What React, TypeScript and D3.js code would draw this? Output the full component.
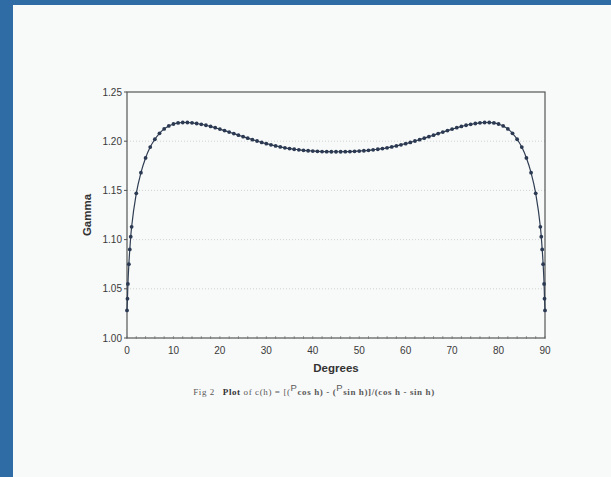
import React, { useEffect, useRef } from 'react'
import * as d3 from 'd3'

// degrees sampled along the curve (denser near the two ends)
const degrees = [
  0, 0.1, 0.2, 0.4, 0.6, 0.8, 1, 2, 3, 4, 5, 6, 7, 8, 9, 10,
  11, 12, 13, 14, 15, 16, 17, 18, 19, 20, 21, 22, 23, 24, 25, 26, 27, 28, 29, 30,
  31, 32, 33, 34, 35, 36, 37, 38, 39, 40, 41, 42, 43, 44, 45, 46, 47, 48, 49, 50,
  51, 52, 53, 54, 55, 56, 57, 58, 59, 60, 61, 62, 63, 64, 65, 66, 67, 68, 69, 70,
  71, 72, 73, 74, 75, 76, 77, 78, 79, 80, 81, 82, 83, 84, 85, 86, 87, 88, 89,
  89.2, 89.4, 89.6, 89.8, 89.9, 90
]

const gamma = [
  1.028, 1.040, 1.055, 1.075, 1.090, 1.103, 1.113, 1.147, 1.168, 1.183, 1.194, 1.202, 1.208, 1.2125, 1.2155, 1.2175,
  1.2186, 1.219, 1.219, 1.2187, 1.218, 1.2172, 1.2162, 1.215, 1.2137, 1.2123, 1.2108, 1.2093, 1.2077, 1.2061, 1.2046, 1.2031, 1.2016, 1.2002, 1.1988, 1.1975,
  1.1963, 1.1952, 1.1942, 1.1933, 1.1925, 1.1918, 1.1912, 1.1907, 1.1903, 1.19, 1.1897, 1.1895, 1.1894, 1.1893, 1.1893, 1.1893, 1.1894, 1.1895, 1.1897, 1.19,
  1.1903, 1.1907, 1.1912, 1.1918, 1.1925, 1.1933, 1.1942, 1.1952, 1.1963, 1.1975, 1.1988, 1.2002, 1.2016, 1.2031, 1.2046, 1.2061, 1.2077, 1.2093, 1.2108, 1.2123,
  1.2137, 1.215, 1.2162, 1.2172, 1.218, 1.2187, 1.219, 1.219, 1.2186, 1.2175, 1.2155, 1.2125, 1.208, 1.202, 1.194, 1.183, 1.168, 1.147, 1.113,
  1.103, 1.090, 1.075, 1.055, 1.040, 1.028
]

const xTicks = [0, 10, 20, 30, 40, 50, 60, 70, 80, 90]
const yTicks = [1.0, 1.05, 1.1, 1.15, 1.2, 1.25]
const gridLines = [1.05, 1.1, 1.15, 1.2]

function App() {
  const ref = useRef<SVGSVGElement>(null)

  useEffect(() => {
    var svg = d3.select(ref.current)
    svg.selectAll('*').remove()

    var W = 611, H = 477
    // scanned paper + blue backdrop
    svg.append('rect').attr('width', W).attr('height', H).attr('fill', '#2f6ca5')
    svg.append('rect').attr('x', 13).attr('y', 5).attr('width', W - 13).attr('height', H - 5).attr('fill', '#f8f9f9')

    var margin = { left: 127, right: 66, top: 92, bottom: 139 }
    var width = W - margin.left - margin.right
    var height = H - margin.top - margin.bottom

    var x = d3.scaleLinear().domain([0, 90]).range([0, width])
    var y = d3.scaleLinear().domain([1.0, 1.25]).range([height, 0])

    var g = svg.append('g').attr('transform', 'translate(' + margin.left + ',' + margin.top + ')')

    // dotted gridlines
    g.selectAll('.grid').data(gridLines).enter().append('line')
      .attr('x1', 0).attr('x2', width)
      .attr('y1', function (d) { return y(d) }).attr('y2', function (d) { return y(d) })
      .attr('stroke', '#c8c8c8').attr('stroke-width', 0.8).attr('stroke-dasharray', '1,2')

    // frame
    g.append('rect').attr('width', width).attr('height', height)
      .attr('fill', 'none').attr('stroke', '#555').attr('stroke-width', 1.2)

    // minor ticks on the x axis
    g.selectAll('.xminor').data(d3.range(0, 91, 2)).enter().append('line')
      .attr('x1', function (d) { return x(d) }).attr('x2', function (d) { return x(d) })
      .attr('y1', height - 2).attr('y2', height + 1)
      .attr('stroke', '#666').attr('stroke-width', 0.6)

    // y axis ticks + labels
    g.selectAll('.ytick').data(yTicks).enter().append('line')
      .attr('x1', -3).attr('x2', 0)
      .attr('y1', function (d) { return y(d) }).attr('y2', function (d) { return y(d) })
      .attr('stroke', '#555')
    g.selectAll('.ylab').data(yTicks).enter().append('text')
      .attr('x', -5).attr('y', function (d) { return y(d) + 3.5 })
      .attr('text-anchor', 'end')
      .attr('font-family', 'Liberation Sans, Arial, sans-serif').attr('font-size', 10)
      .attr('fill', '#3a3a3a')
      .text(function (d) { return d3.format('.2f')(d) })

    // x axis labels
    g.selectAll('.xlab').data(xTicks).enter().append('text')
      .attr('x', function (d) { return x(d) }).attr('y', height + 16)
      .attr('text-anchor', 'middle')
      .attr('font-family', 'Liberation Sans, Arial, sans-serif').attr('font-size', 10)
      .attr('fill', '#3a3a3a')
      .text(function (d) { return d })

    // axis titles
    g.append('text').attr('x', width / 2).attr('y', height + 34)
      .attr('text-anchor', 'middle')
      .attr('font-family', 'Liberation Sans, Arial, sans-serif').attr('font-size', 11.5).attr('font-weight', 'bold')
      .attr('fill', '#333').text('Degrees')
    g.append('text')
      .attr('transform', 'translate(' + (-36) + ',' + (height / 2) + ') rotate(-90)')
      .attr('text-anchor', 'middle')
      .attr('font-family', 'Liberation Sans, Arial, sans-serif').attr('font-size', 11.5).attr('font-weight', 'bold')
      .attr('fill', '#333').text('Gamma')

    // curve
    var pts = degrees.map(function (d, i) { return [d, gamma[i]] as [number, number] })
    var line = d3.line<[number, number]>()
      .x(function (d) { return x(d[0]) })
      .y(function (d) { return y(d[1]) })
      .curve(d3.curveMonotoneX)
    g.append('path').datum(pts)
      .attr('fill', 'none').attr('stroke', '#2f3d52').attr('stroke-width', 1.2)
      .attr('d', line)

    g.selectAll('.pt').data(pts).enter().append('circle')
      .attr('cx', function (d) { return x(d[0]) })
      .attr('cy', function (d) { return y(d[1]) })
      .attr('r', 1.9)
      .attr('fill', '#2b3a52')

    // caption
    var cap = svg.append('text').attr('x', 314).attr('y', 395)
      .attr('text-anchor', 'middle')
      .attr('font-family', 'Liberation Serif, Times New Roman, serif').attr('font-size', 9)
      .attr('letter-spacing', 0.6)
      .attr('fill', '#5a5a5a')
    cap.append('tspan').text('Fig 2 ')
    cap.append('tspan').attr('dx', 5).attr('font-weight', 'bold').attr('fill', '#333').text('Plot')
    cap.append('tspan').text(' of c(h) = [(')
    cap.append('tspan').attr('dy', -4).attr('font-size', 9.5).attr('font-family', 'Liberation Sans, Arial, sans-serif').text('P')
    cap.append('tspan').attr('dy', 4).attr('font-weight', 'bold').text('cos h) - (')
    cap.append('tspan').attr('dy', -4).attr('font-size', 9.5).attr('font-family', 'Liberation Sans, Arial, sans-serif').text('P')
    cap.append('tspan').attr('dy', 4).attr('font-weight', 'bold').text('sin h)]/(cos h - sin h)')
  }, [])

  return (
    <svg ref={ref} width={611} height={477}
      style={{ position: 'absolute', left: 0, top: 0, display: 'block' }} />
  )
}

export default App
